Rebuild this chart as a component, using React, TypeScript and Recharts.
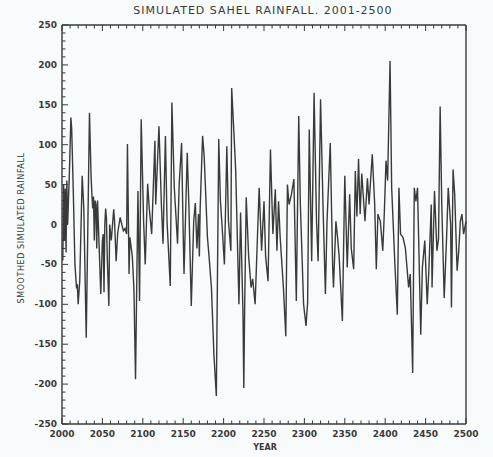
import React from "react";
import { LineChart, Line, XAxis, YAxis } from "recharts";

const years = [
  2001, 2002, 2003, 2004, 2005, 2006, 2007, 2009, 2011, 2012, 2014, 2016, 2018, 2019, 2020, 2022, 2025, 2027, 2030, 2034,
  2036, 2037, 2038, 2039, 2040, 2041, 2042, 2043, 2044, 2045, 2048, 2050, 2051, 2052, 2053, 2054, 2055, 2056, 2058, 2059,
  2061, 2064, 2065, 2067, 2069, 2072, 2074, 2076, 2078, 2080, 2081, 2083, 2084, 2087, 2089, 2091, 2094, 2096, 2098, 2101,
  2103, 2106, 2108, 2111, 2115, 2116, 2120, 2123, 2125, 2128, 2130, 2134, 2136, 2139, 2143, 2145, 2148, 2150, 2151, 2155,
  2157, 2160, 2163, 2165, 2167, 2169, 2170, 2171, 2174, 2176, 2180, 2182, 2185, 2188, 2191, 2194, 2196, 2198, 2201, 2204,
  2206, 2209, 2210, 2213, 2215, 2219, 2221, 2224, 2225, 2226, 2228, 2231, 2234, 2236, 2239, 2244, 2247, 2250, 2252, 2255,
  2258, 2261, 2264, 2266, 2268, 2270, 2274, 2277, 2279, 2281, 2284, 2287, 2290, 2293, 2295, 2299, 2302, 2304, 2306, 2309,
  2312, 2315, 2317, 2320, 2323, 2326, 2328, 2332, 2335, 2336, 2339, 2341, 2343, 2347, 2350, 2353, 2356, 2358, 2361, 2363,
  2365, 2367, 2369, 2371, 2375, 2378, 2380, 2384, 2387, 2389, 2391, 2394, 2397, 2399, 2401, 2403, 2406, 2408, 2412, 2415,
  2417, 2419, 2422, 2425, 2429, 2431, 2434, 2436, 2438, 2440, 2444, 2446, 2449, 2452, 2454, 2457, 2458, 2461, 2464, 2466,
  2468, 2470, 2473, 2476, 2478, 2481, 2482, 2484, 2486, 2489, 2491, 2493, 2495, 2497, 2500,
];

const rainfall = [
  -45, 50, -20, 45, -35, 55, 0, 60, 134, 120, 40, -50, -80, -75, -100, -70, 61, 20, -142, 140,
  60, 38, 20, 35, -20, 30, 25, -30, 30, 0, -87, -20, -12, -85, 0, 20, 8, -40, -102, 0,
  -20, 19, 5, -46, -10, 9, 0, -8, -5, -12, 101, -62, -16, -40, -80, -194, 42, -96, 132, 4,
  -50, 51, 20, -12, 105, 25, 123, 25, -24, 111, 4, -77, 153, 46, -24, 50, 102, -12, -62, 90,
  25, -102, 4, 27, -30, 13, -40, 20, 111, 85, -16, -40, -80, -163, -215, 107, 30, 0, -50, 98,
  4, -33, 171, 110, 67, -100, 15, -112, -205, -110, 34, -40, -79, -68, -100, 46, -33, 29, -40, -71,
  94, -12, 44, -33, 29, -16, -79, -140, 50, 25, 38, 57, -96, 136, 25, -100, -127, -98, 119, -46,
  165, 4, -46, 157, 25, -87, 4, 102, -54, -79, 4, -16, -40, -121, 61, -54, 38, -30, -56, 67,
  10, 82, 13, 64, 4, 58, 25, 88, 25, -56, 13, 4, -33, 17, 80, 55, 205, 46, -50, -113,
  46, -12, -16, -30, -79, -62, -186, 46, 29, 46, -138, -54, -20, -100, -58, 25, -79, 42, -33, -18,
  148, 25, -92, -16, 46, 0, -104, 69, 38, -58, -33, 4, 13, -12, 4,
];

const xTickLabels = [2000, 2050, 2100, 2150, 2200, 2250, 2300, 2350, 2400, 2450, 2500];
const yTickLabels = [-250, -200, -150, -100, -50, 0, 50, 100, 150, 200, 250];
const xMinorTicks = Array.from({ length: 51 }, (_, i) => 2000 + i * 10);
const yMinorTicks = Array.from({ length: 51 }, (_, i) => -250 + i * 10);

const title = "SIMULATED SAHEL RAINFALL. 2001-2500";
const xLabel = "YEAR";
const yLabel = "SMOOTHED SIMULATED RAINFALL";

const data = years.map((y, i) => ({ year: y, value: rainfall[i] }));

const INK = "#3a3a3a";
const FONT = "'DejaVu Sans', sans-serif";

const BottomTick = (p: any) => {
  const v = p.payload.value;
  const major = xTickLabels.includes(v);
  return (
    <g>
      <line x1={p.x} x2={p.x} y1={p.y} y2={p.y - (major ? 6 : 3.5)} stroke={INK} strokeWidth={1} />
      {major && (
        <text x={p.x} y={p.y + 13} textAnchor="middle" fontSize={9} fontWeight="bold" fontFamily={FONT} fill={INK}>
          {v}
        </text>
      )}
    </g>
  );
};

const TopTick = (p: any) => {
  const v = p.payload.value;
  const major = xTickLabels.includes(v);
  return <line x1={p.x} x2={p.x} y1={p.y} y2={p.y + (major ? 6 : 3.5)} stroke={INK} strokeWidth={1} />;
};

const LeftTick = (p: any) => {
  const v = p.payload.value;
  const major = yTickLabels.includes(v);
  return (
    <g>
      <line x1={p.x} x2={p.x + (major ? 6 : 3.5)} y1={p.y} y2={p.y} stroke={INK} strokeWidth={1} />
      {major && (
        <text x={p.x - 5} y={p.y + 3} textAnchor="end" fontSize={9} fontWeight="bold" fontFamily={FONT} fill={INK}>
          {v}
        </text>
      )}
    </g>
  );
};

const RightTick = (p: any) => {
  const v = p.payload.value;
  const major = yTickLabels.includes(v);
  return <line x1={p.x} x2={p.x - (major ? 6 : 3.5)} y1={p.y} y2={p.y} stroke={INK} strokeWidth={1} />;
};

export default function App() {
  return (
    <div style={{ position: "absolute", left: 0, top: 0, width: 493, height: 457, background: "#f8fbfb" }}>
      <LineChart width={493} height={457} data={data} margin={{ top: 24, right: 26, bottom: 32, left: 61 }}>
        <XAxis
          dataKey="year"
          type="number"
          domain={[2000, 2500]}
          ticks={xMinorTicks}
          interval={0}
          height={1}
          tickSize={0}
          tickMargin={0}
          tickLine={false}
          tick={<BottomTick />}
          axisLine={{ stroke: INK, strokeWidth: 1.4 }}
        />
        <XAxis
          xAxisId="top"
          orientation="top"
          dataKey="year"
          type="number"
          domain={[2000, 2500]}
          ticks={xMinorTicks}
          interval={0}
          height={1}
          tickSize={0}
          tickMargin={0}
          tickLine={false}
          tick={<TopTick />}
          axisLine={{ stroke: INK, strokeWidth: 1.4 }}
        />
        <YAxis
          type="number"
          domain={[-250, 250]}
          ticks={yMinorTicks}
          interval={0}
          width={1}
          tickSize={0}
          tickMargin={0}
          tickLine={false}
          tick={<LeftTick />}
          axisLine={{ stroke: INK, strokeWidth: 1.4 }}
        />
        <YAxis
          yAxisId="right"
          orientation="right"
          type="number"
          domain={[-250, 250]}
          ticks={yMinorTicks}
          interval={0}
          width={1}
          tickSize={0}
          tickMargin={0}
          tickLine={false}
          tick={<RightTick />}
          axisLine={{ stroke: INK, strokeWidth: 1.4 }}
        />
        <Line
          dataKey="value"
          type="linear"
          stroke={INK}
          strokeWidth={1.4}
          dot={false}
          isAnimationActive={false}
        />
      </LineChart>
      <svg width={493} height={457} style={{ position: "absolute", left: 0, top: 0, pointerEvents: "none" }}>
        <text x={263} y={14} textAnchor="middle" fontSize={11} fontFamily={FONT} fill={INK} letterSpacing={1}>
          {title}
        </text>
        <text x={265} y={450} textAnchor="middle" fontSize={8} fontWeight="bold" fontFamily={FONT} fill={INK}>
          {xLabel}
        </text>
        <text
          x={24}
          y={228}
          textAnchor="middle"
          fontSize={8}
          fontFamily={FONT}
          fill={INK}
          letterSpacing={0.6}
          transform="rotate(-90 24 228)"
        >
          {yLabel}
        </text>
      </svg>
    </div>
  );
}
